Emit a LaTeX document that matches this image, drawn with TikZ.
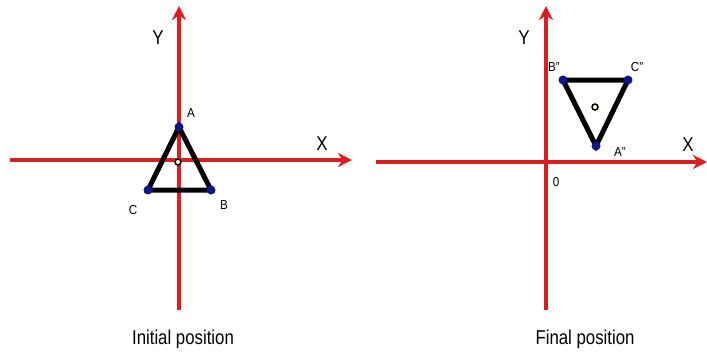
\documentclass[tikz,border=0pt]{standalone}
\usepackage{fontspec}
\setmainfont{Liberation Sans}
\usetikzlibrary{arrows.meta}
\begin{document}
\begin{tikzpicture}[x=1pt,y=-1pt,
  axis/.style={draw={rgb,255:red,220;green,30;blue,30}, line width=3.5pt, -{Stealth[length=14pt,width=14pt]}},
  tri/.style={draw=black, line width=5pt, line join=miter},
  vtx/.style={circle, fill={rgb,255:red,20;green,20;blue,140}, inner sep=0pt, minimum size=9pt},
  ctr/.style={circle, draw=black, fill={rgb,255:red,255;green,255;blue,220}, line width=1.5pt, inner sep=0pt, minimum size=6pt},
  lbl/.style={font=\fontsize{13}{14}\selectfont\addfontfeatures{FakeStretch=0.9}, inner sep=0pt},
  axl/.style={font=\fontsize{20}{22}\selectfont\addfontfeatures{FakeStretch=0.85}, inner sep=0pt},
  captext/.style={font=\fontsize{20}{22}\selectfont\addfontfeatures{FakeStretch=0.84}, inner sep=0pt}]
\useasboundingbox (0,0) rectangle (707,354);
% left
\coordinate (lxs) at (10,160); \coordinate (lxe) at (352,160);
\coordinate (lys) at (179,310); \coordinate (lye) at (179,6);
\draw[axis] (lxs) -- (lxe);
\draw[axis] (lys) -- (lye);
\coordinate (A) at (179,127); \coordinate (B) at (211,190); \coordinate (C) at (148,190);
\draw[tri] (A) -- (B) -- (C) -- cycle;
\node[vtx] (vA) at (A) {}; \node[vtx] (vB) at (B) {}; \node[vtx] (vC) at (C) {};
\node[ctr] (cL) at (178,162) {};
\node[lbl] (tA) at (191,113) {A};
\node[lbl] (tB) at (224,205) {B};
\node[lbl] (tC) at (133,210) {C};
\node[axl] (tYL) at (158,38) {Y};
\node[axl] (tXL) at (322,144) {X};
\node[captext] (capL) at (183,339) {Initial position};
% right
\coordinate (rxs) at (376,162); \coordinate (rxe) at (707,162);
\coordinate (rys) at (546,310); \coordinate (rye) at (546,6);
\draw[axis] (rxs) -- (rxe);
\draw[axis] (rys) -- (rye);
\coordinate (A2) at (596,146); \coordinate (B2) at (563,80); \coordinate (C2) at (628,80);
\draw[tri] (A2) -- (B2) -- (C2) -- cycle;
\node[vtx] (vA2) at (A2) {}; \node[vtx] (vB2) at (B2) {}; \node[vtx] (vC2) at (C2) {};
\node[ctr] (cR) at (595,107) {};
\node[lbl] (tA2) at (620,152) {A\char"0022};
\node[lbl] (tB2) at (554,67) {B\char"0022};
\node[lbl] (tC2) at (637,67) {C\char"0022};
\node[lbl] (tO) at (556,182) {0};
\node[axl] (tYR) at (524,38) {Y};
\node[axl] (tXR) at (688,145) {X};
\node[captext] (capR) at (585,339) {Final position};
\end{tikzpicture}
\end{document}
